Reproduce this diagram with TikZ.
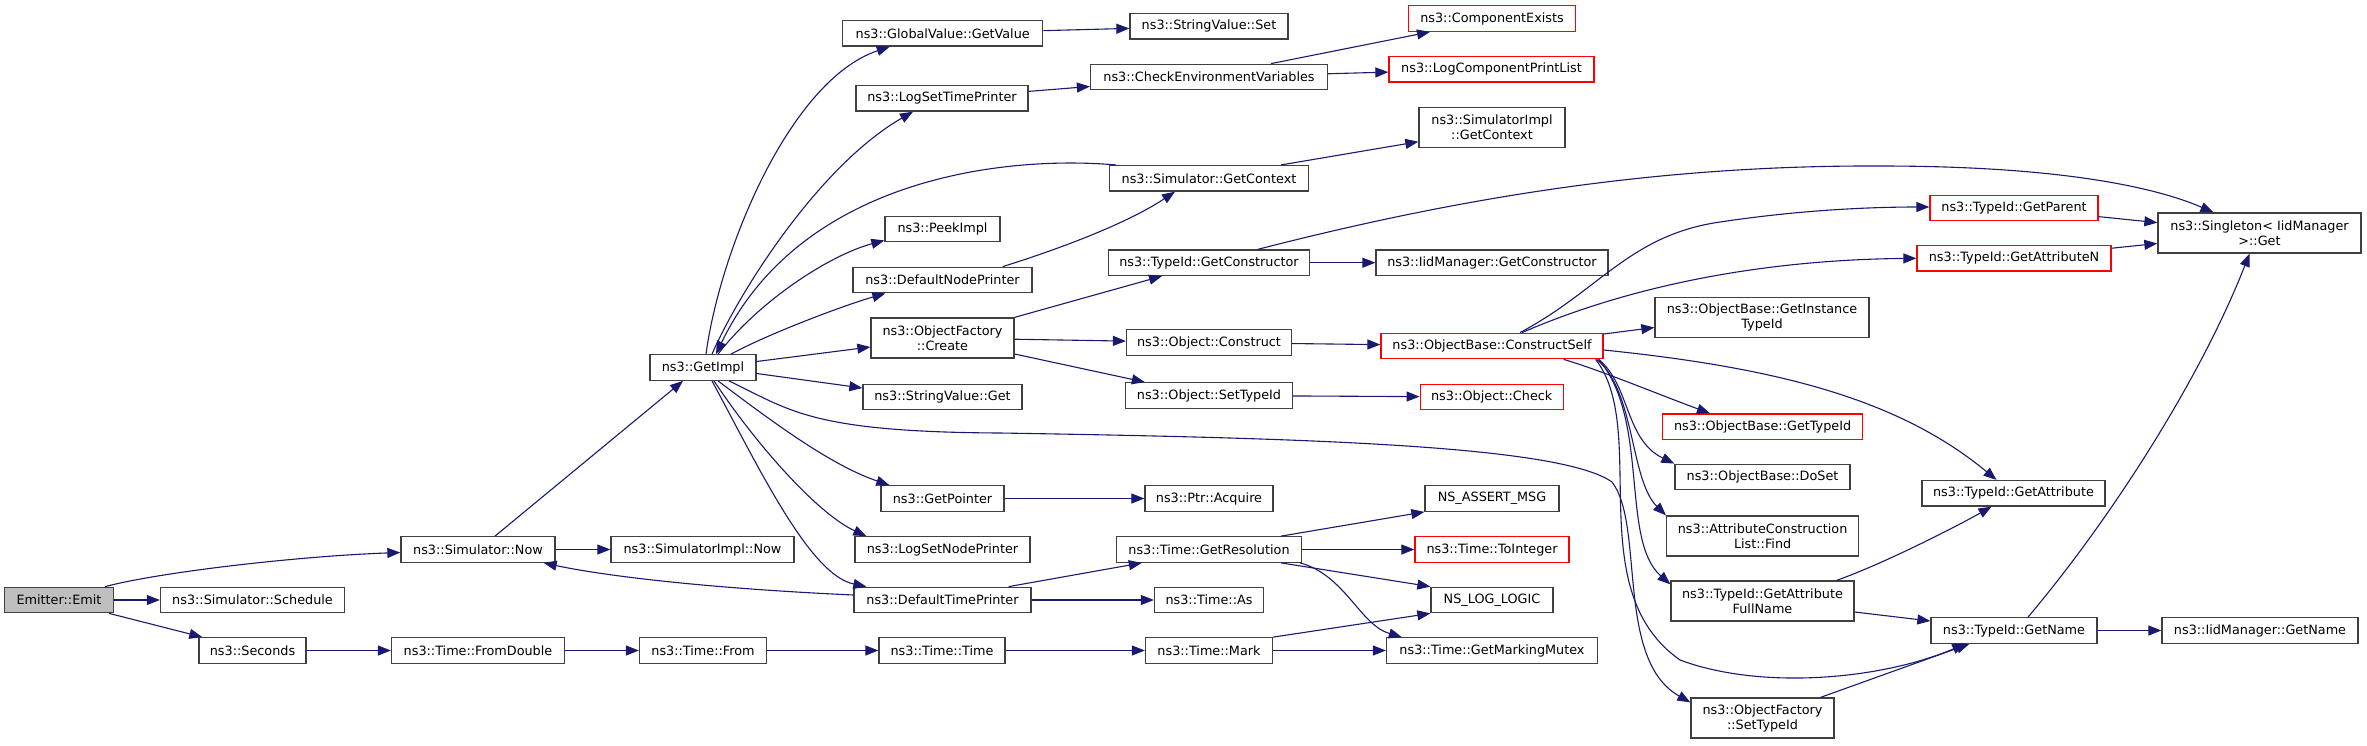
\documentclass[tikz,border=0pt]{standalone}
\usepackage{fontspec}
\setmainfont{DejaVu Sans}
\usetikzlibrary{arrows.meta}

\definecolor{callblue}{HTML}{191970}
\definecolor{boxgray}{HTML}{404040}
\definecolor{truncred}{HTML}{FF0000}
\definecolor{rootgray}{HTML}{BFBFBF}

\begin{document}
\begin{tikzpicture}[
    x=1pt, y=-1pt,
    font=\fontsize{12.8pt}{15pt}\selectfont,
    fn/.style      ={draw=boxgray, line width=1.3pt, fill=white, align=center,
                     minimum height=25.5pt, inner xsep=3pt, inner ysep=2pt},
    fntwo/.style   ={fn, minimum height=40pt},
    truncbox/.style={draw=truncred},
    rootbox/.style ={fill=rootgray},
    call/.style    ={-{Triangle[length=13pt,width=10pt]}, draw=callblue,
                     line width=1.1pt}
]
\fill[white] (0,0) rectangle (2367,745);
\useasboundingbox (0,0) rectangle (2367,745);

% =================== column 0-2: caller side ===================
\node[fn, rootbox, minimum width=109pt] (emit)       at (59,600)    {Emitter::Emit};
\node[fn, minimum width=184pt] (schedule)            at (252.5,600) {ns3::Simulator::Schedule};
\node[fn, minimum width=107pt] (seconds)             at (252.5,650.5) {ns3::Seconds};
\node[fn, minimum width=154pt] (simnow)              at (478,549.5) {ns3::Simulator::Now};
\node[fn, minimum width=173pt] (fromdouble)          at (478,650.5) {ns3::Time::FromDouble};
\node[fn, minimum width=106pt] (getimpl)             at (703,367.5) {ns3::GetImpl};
\node[fn, minimum width=183pt] (simimplnow)          at (702.5,549.5) {ns3::SimulatorImpl::Now};
\node[fn, minimum width=127pt] (timefrom)            at (703,650.5) {ns3::Time::From};

% =================== column 3 ===================
\node[fn, minimum width=200pt] (globalvalue)         at (942.7,33.3) {ns3::GlobalValue::GetValue};
\node[fn, minimum width=172pt] (logsettime)          at (942,98.3)  {ns3::LogSetTimePrinter};
\node[fn, minimum width=115pt] (peekimpl)            at (942.5,229) {ns3::PeekImpl};
\node[fn, minimum width=179pt] (defnodeprinter)      at (942.5,280) {ns3::DefaultNodePrinter};
\node[fntwo, minimum width=143pt] (ofcreate)         at (942.5,338) {ns3::ObjectFactory\\::Create};
\node[fn, minimum width=159pt] (stringget)           at (942.5,397) {ns3::StringValue::Get};
\node[fn, minimum width=123pt] (getpointer)          at (942.5,498.5) {ns3::GetPointer};
\node[fn, minimum width=175pt] (logsetnode)          at (942.5,549.5) {ns3::LogSetNodePrinter};
\node[fn, minimum width=177pt] (deftimeprinter)      at (942.5,600) {ns3::DefaultTimePrinter};
\node[fn, minimum width=126pt] (timetime)            at (942,650.5) {ns3::Time::Time};

% =================== column 4 ===================
\node[fn, minimum width=158pt] (stringset)           at (1209,26.3)  {ns3::StringValue::Set};
\node[fn, minimum width=237pt] (checkenv)            at (1209,77)    {ns3::CheckEnvironmentVariables};
\node[fn, minimum width=199pt] (simgetcontext)       at (1209,178.3) {ns3::Simulator::GetContext};
\node[fn, minimum width=201pt] (getconstructor)      at (1209,262.7) {ns3::TypeId::GetConstructor};
\node[fn, minimum width=165pt] (objconstruct)        at (1209,342.5) {ns3::Object::Construct};
\node[fn, minimum width=167pt] (objsettypeid)        at (1209,395.5) {ns3::Object::SetTypeId};
\node[fn, minimum width=128pt] (ptracquire)          at (1209,498.5) {ns3::Ptr::Acquire};
\node[fn, minimum width=185pt] (getresolution)       at (1209,549.5) {ns3::Time::GetResolution};
\node[fn, minimum width=109pt] (timeas)              at (1209,600)   {ns3::Time::As};
\node[fn, minimum width=127pt] (timemark)            at (1209,650.5) {ns3::Time::Mark};

% =================== column 5 ===================
\node[fn, truncbox, minimum width=167pt] (compexists)   at (1492,18.5)  {ns3::ComponentExists};
\node[fn, truncbox, minimum width=205pt] (logcompprint) at (1491.5,69.3) {ns3::LogComponentPrintList};
\node[fntwo, minimum width=146pt] (simimplgetcontext)   at (1492,127.7) {ns3::SimulatorImpl\\::GetContext};
\node[fn, minimum width=232pt] (iidgetconstructor)      at (1492,262.7) {ns3::IidManager::GetConstructor};
\node[fn, truncbox, minimum width=222pt] (constructself) at (1492,346)  {ns3::ObjectBase::ConstructSelf};
\node[fn, truncbox, minimum width=143pt] (objcheck)     at (1491.7,397) {ns3::Object::Check};
\node[fn, minimum width=134pt] (assertmsg)              at (1492,498.5) {NS\_ASSERT\_MSG};
\node[fn, truncbox, minimum width=154pt] (tointeger)    at (1492,549.5) {ns3::Time::ToInteger};
\node[fn, minimum width=122pt] (loglogic)               at (1492,600)   {NS\_LOG\_LOGIC};
\node[fn, minimum width=211pt] (markingmutex)           at (1492,650.5) {ns3::Time::GetMarkingMutex};

% =================== column 6 ===================
\node[fntwo, minimum width=214pt] (getinstancetypeid)   at (1762,317.5) {ns3::ObjectBase::GetInstance\\TypeId};
\node[fn, truncbox, minimum width=200pt] (obgettypeid)  at (1762.6,426.7) {ns3::ObjectBase::GetTypeId};
\node[fn, minimum width=175pt] (doset)                  at (1762.5,477) {ns3::ObjectBase::DoSet};
\node[fntwo, minimum width=192pt] (attrfind)            at (1762.6,536) {ns3::AttributeConstruction\\List::Find};
\node[fntwo, minimum width=183pt] (getattrfullname)     at (1762.5,601) {ns3::TypeId::GetAttribute\\FullName};
\node[fntwo, minimum width=143pt] (ofsettypeid)         at (1762.5,718) {ns3::ObjectFactory\\::SetTypeId};

% =================== column 7-8 ===================
\node[fn, truncbox, minimum width=168pt] (getparent)    at (2014,208)   {ns3::TypeId::GetParent};
\node[fn, truncbox, minimum width=194pt] (getattributen) at (2014,258.3) {ns3::TypeId::GetAttributeN};
\node[fn, minimum width=183pt] (getattribute)           at (2013.5,493.3) {ns3::TypeId::GetAttribute};
\node[fn, minimum width=166pt] (getname)                at (2014,630.5) {ns3::TypeId::GetName};
\node[fntwo, minimum width=203pt] (singletonget)        at (2259.5,233) {ns3::Singleton< IidManager\\>::Get};
\node[fn, minimum width=196pt] (iidgetname)             at (2260,630.5) {ns3::IidManager::GetName};

% --- calls out of Emitter::Emit ---
\draw[call] ([xshift=-9pt]emit.north east) .. controls (160,572) and (300,556) .. ([yshift=-3pt]simnow.west);
\draw[call] (emit) -- (schedule);
\draw[call] ([xshift=-5pt]emit.south east) -- ([xshift=4pt]seconds.north west);

% --- bottom time chain ---
\draw[call] (seconds) -- (fromdouble);
\draw[call] (fromdouble) -- (timefrom);
\draw[call] (timefrom) -- (timetime);
\draw[call] (timetime) -- (timemark);
\draw[call] (timemark.north east) -- (loglogic.south west);
\draw[call] (timemark) -- (markingmutex);

% --- Simulator::Now ---
\draw[call] ([xshift=17pt]simnow.north) -- ([xshift=-20pt]getimpl.south);
\draw[call] (simnow) -- (simimplnow);
\draw[call] ([yshift=5pt]deftimeprinter.west) .. controls (700,588) and (600,575) .. ([xshift=-12pt]simnow.south east);

% --- fan out of GetImpl (upwards) ---
\draw[call] ([xshift=3pt]getimpl.north) .. controls (720,250) and (790,80) .. ([xshift=-53pt]globalvalue.south);
\draw[call] ([xshift=9pt]getimpl.north) .. controls (740,290) and (820,165) .. ([xshift=-29pt]logsettime.south);
\draw[call] ([xshift=7pt]simgetcontext.north west) .. controls (1000,155) and (800,180) .. ([xshift=13pt]getimpl.north);
\draw[call] ([xshift=15pt]getimpl.north) .. controls (760,300) and (830,255) .. ([yshift=2pt]peekimpl.south west);
\draw[call] ([xshift=28pt]getimpl.north) .. controls (770,333) and (845,305) .. ([xshift=33pt]defnodeprinter.south west);
\draw[call] ([yshift=6pt]getimpl.east) -- ([yshift=-9pt]ofcreate.west);
\draw[call] ([yshift=-6pt]getimpl.east) -- ([yshift=9pt]stringget.west);

% --- fan out of GetImpl (downwards) ---
\draw[call] ([xshift=26pt]getimpl.south) .. controls (790,410) and (810,432) .. (1000,433)
    .. controls (1300,438) and (1560,445) .. (1612,482)
    .. controls (1645,525) and (1615,660) .. ([yshift=-5pt]ofsettypeid.north west);
\draw[call] ([xshift=15pt]getimpl.south) .. controls (770,420) and (830,465) .. ([xshift=9pt]getpointer.north west);
\draw[call] ([xshift=11pt]getimpl.south) .. controls (760,450) and (820,515) .. ([xshift=12pt]logsetnode.north west);
\draw[call] ([xshift=9pt]getimpl.south) .. controls (760,470) and (810,575) .. ([xshift=13pt]deftimeprinter.north west);

% --- column 3 onwards ---
\draw[call] ([xshift=-30pt]defnodeprinter.north east) .. controls (1040,255) and (1120,228) .. ([xshift=-34pt]simgetcontext.south);
\draw[call] ([xshift=-28pt]simgetcontext.north east) -- ([yshift=-14pt]simimplgetcontext.west);
\draw[call] (globalvalue) -- (stringset);
\draw[call] (logsettime) -- (checkenv);
\draw[call] ([xshift=62pt]checkenv.north) -- ([xshift=-62pt]compexists.south);
\draw[call] (checkenv) -- (logcompprint);
\draw[call] (ofcreate.north east) -- ([xshift=-47pt]getconstructor.south);
\draw[call] (ofcreate) -- (objconstruct);
\draw[call] ([yshift=-16pt]ofcreate.east) -- ([xshift=20pt]objsettypeid.north west);
\draw[call] (getconstructor) -- (iidgetconstructor);
\draw[call] ([xshift=49pt]getconstructor.north) .. controls (1450,200) and (1650,165) .. (1880,166)
    .. controls (2050,166) and (2150,185) .. ([xshift=-46pt]singletonget.north);
\draw[call] (objconstruct) -- (constructself);
\draw[call] (objsettypeid) -- (objcheck);
\draw[call] (getpointer) -- (ptracquire);
\draw[call] ([xshift=-23pt]deftimeprinter.north east) -- ([xshift=26pt]getresolution.south west);
\draw[call] (deftimeprinter) -- (timeas);

% --- Time::GetResolution ---
\draw[call] ([xshift=-21pt]getresolution.north east) -- (assertmsg.south west);
\draw[call] (getresolution) -- (tointeger);
\draw[call] ([xshift=-21pt]getresolution.south east) -- (loglogic.north west);
\draw[call] ([xshift=-2pt]getresolution.south east) .. controls (1345,575) and (1360,625) .. ([xshift=16pt]markingmutex.north west);

% --- ObjectBase::ConstructSelf ---
\draw[call] ([xshift=28pt]constructself.north) .. controls (1600,290) and (1630,235) .. (1720,222)
    .. controls (1800,210) and (1870,207) .. ([yshift=1pt]getparent.west);
\draw[call] ([xshift=30pt]constructself.north) .. controls (1620,290) and (1750,260) .. (getattributen.west);
\draw[call] ([yshift=12pt]constructself.east) -- ([yshift=-10pt]getinstancetypeid.west);
\draw[call] ([yshift=-4pt]constructself.east) .. controls (1780,368) and (1900,400) .. ([xshift=-17pt]getattribute.north);
\draw[call] ([xshift=-40pt]constructself.south east) .. controls (1600,370) and (1660,395) .. ([xshift=48pt]obgettypeid.north west);
\draw[call] ([xshift=-5pt]constructself.south east) .. controls (1630,385) and (1625,440) .. (doset.north west);
\draw[call] ([xshift=-7pt]constructself.south east) .. controls (1635,390) and (1630,480) .. (attrfind.north west);
\draw[call] ([xshift=-5pt]constructself.south east) .. controls (1650,420) and (1620,540) .. ([yshift=-4pt]getattrfullname.north west);
\draw[call] ([xshift=-8pt]constructself.south east) .. controls (1650,430) and (1580,590) .. (1680,660)
    .. controls (1760,690) and (1880,680) .. ([xshift=35pt]getname.south west);

% --- right side ---
\draw[call] ([xshift=-14pt]ofsettypeid.north east) -- ([xshift=39pt]getname.south west);
\draw[call] (getparent) -- (singletonget);
\draw[call] (getattributen) -- (singletonget);
\draw[call] ([xshift=-18pt]getattrfullname.north east) .. controls (1880,565) and (1950,530) .. ([xshift=-22pt]getattribute.south);
\draw[call] ([yshift=-11pt]getattrfullname.east) -- ([yshift=9.5pt]getname.west);
\draw[call] ([xshift=14pt]getname.north) .. controls (2110,520) and (2200,380) .. ([xshift=-10pt]singletonget.south);
\draw[call] (getname) -- (iidgetname);

\end{tikzpicture}
\end{document}
